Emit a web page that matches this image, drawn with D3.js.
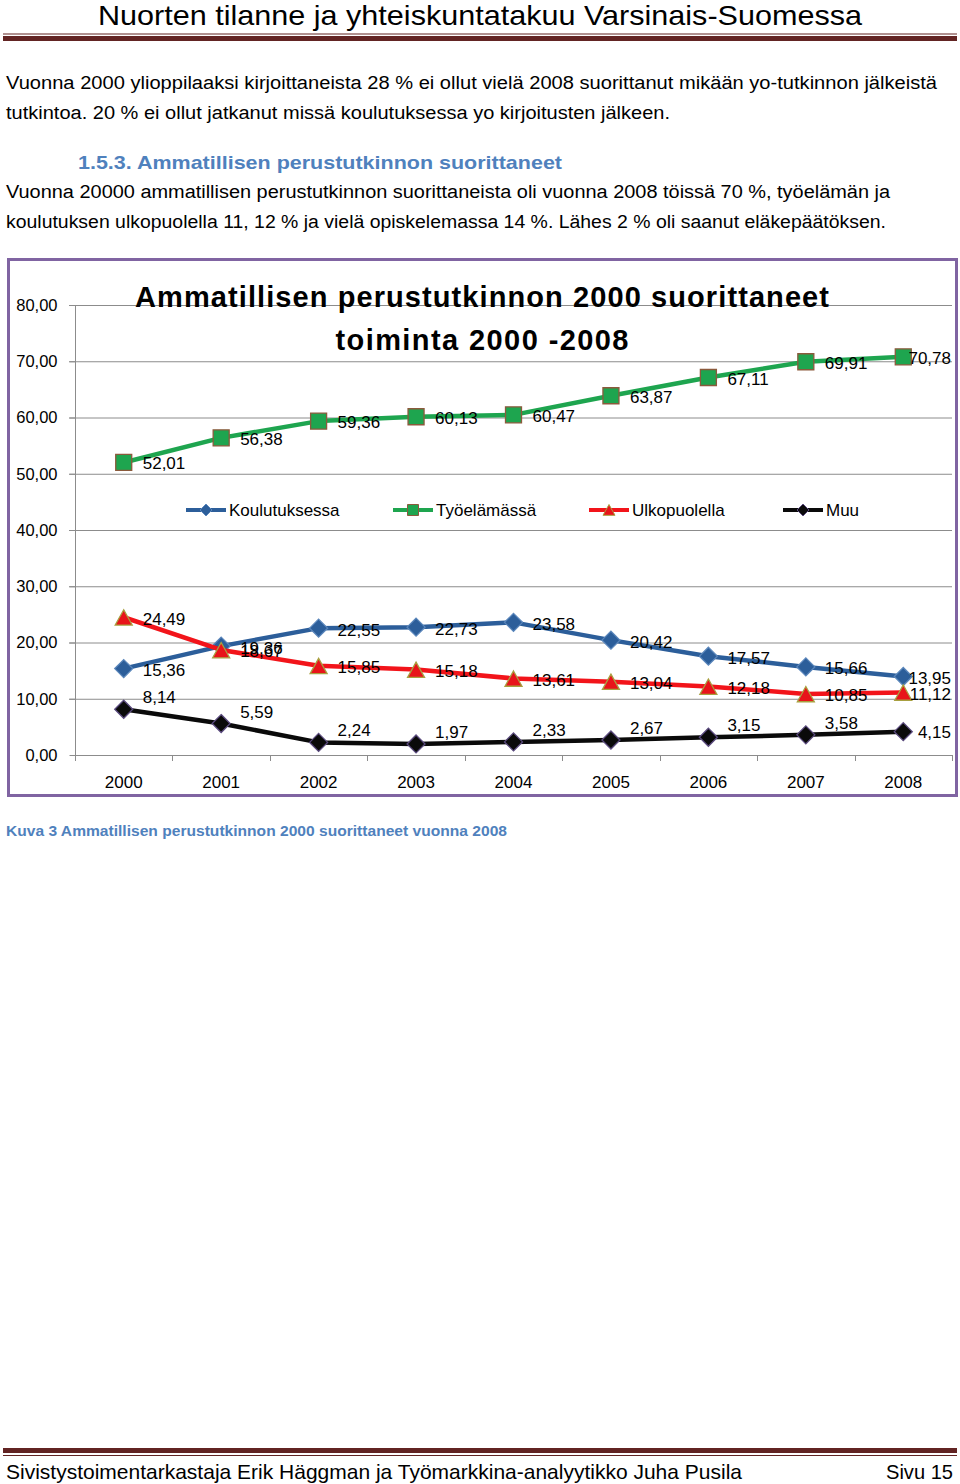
<!DOCTYPE html>
<html><head><meta charset="utf-8">
<script src="https://cdn.jsdelivr.net/npm/d3@7"></script>
<style>body{margin:0;background:#fff}svg{display:block}</style>
</head><body>
<svg id="page" width="960" height="1484"></svg>
<script>
const years = ["2000","2001","2002","2003","2004","2005","2006","2007","2008"];
const koulutuksessa = [15.36,19.36,22.55,22.73,23.58,20.42,17.57,15.66,13.95];
const tyoelamassa = [52.01,56.38,59.36,60.13,60.47,63.87,67.11,69.91,70.78];
const ulkopuolella = [24.49,18.67,15.85,15.18,13.61,13.04,12.18,10.85,11.12];
const muu = [8.14,5.59,2.24,1.97,2.33,2.67,3.15,3.58,4.15];
const seriesNames = ["Koulutuksessa","Työelämässä","Ulkopuolella","Muu"];
const yTicks = [0,10,20,30,40,50,60,70,80];

const svg = d3.select("#page");
const F = "'Liberation Sans', Arial, sans-serif";
const maroon = "#622423";

// Header
svg.append("text").attr("x",480).attr("y",25).attr("text-anchor","middle")
  .attr("font-family",F).attr("font-size",28).attr("fill","#000")
  .attr("textLength",764).attr("lengthAdjust","spacingAndGlyphs")
  .text("Nuorten tilanne ja yhteiskuntatakuu Varsinais-Suomessa");
svg.append("rect").attr("x",3).attr("y",33.5).attr("width",954).attr("height",1).attr("fill",maroon);
svg.append("rect").attr("x",3).attr("y",36).attr("width",954).attr("height",5).attr("fill",maroon);

// Paragraphs
function para(txt,x,y,w,opts={}){
  const t = svg.append("text").attr("x",x).attr("y",y).attr("font-family",F)
    .attr("font-size",opts.size||18).attr("fill",opts.fill||"#000")
    .attr("font-weight",opts.weight||"normal").text(txt);
  if(w) t.attr("textLength",w).attr("lengthAdjust","spacingAndGlyphs");
  return t;
}
para("Vuonna 2000 ylioppilaaksi kirjoittaneista 28 % ei ollut vielä 2008 suorittanut mikään yo-tutkinnon jälkeistä",6,89,931);
para("tutkintoa. 20 % ei ollut jatkanut missä koulutuksessa yo kirjoitusten jälkeen.",6,119,664);
para("1.5.3. Ammatillisen perustutkinnon suorittaneet",78,169,484,{weight:"bold",fill:"#4F81BD",size:19});
para("Vuonna 20000 ammatillisen perustutkinnon suorittaneista oli vuonna 2008 töissä 70 %, työelämän ja",6,198,884);
para("koulutuksen ulkopuolella 11, 12 % ja vielä opiskelemassa 14 %. Lähes 2 % oli saanut eläkepäätöksen.",6,228,880);

// Chart border
svg.append("rect").attr("x",8.5).attr("y",259.5).attr("width",948).attr("height",536)
  .attr("fill","#fff").attr("stroke","#8064A2").attr("stroke-width",3);

// Scales
const x = d3.scaleBand().domain(years).range([75,952]);
const y = d3.scaleLinear().domain([0,80]).range([755,305]);
const g = svg.append("g");

// gridlines
g.selectAll(".grid").data(yTicks.filter(d=>d>0)).join("line")
  .attr("x1",69).attr("x2",952).attr("y1",d=>y(d)+0.5).attr("y2",d=>y(d)+0.5)
  .attr("stroke","#8c8c8c").attr("stroke-width",1);

// axes
const yAxis = d3.axisLeft(y).tickValues(yTicks).tickSize(6).tickPadding(12)
  .tickFormat(d=>d3.format(".2f")(d).replace(".",","));
const ya = g.append("g").attr("transform","translate(75.5,0)").call(yAxis);
ya.select(".domain").attr("stroke","#8c8c8c");
ya.selectAll(".tick line").attr("stroke","#8c8c8c");
ya.selectAll("text").attr("font-family",F).attr("font-size",16.5).attr("fill","#000");
ya.select(".domain").attr("d","M0,755V305");

const xAxis = d3.axisBottom(x).tickSize(0).tickPadding(20);
const xa = g.append("g").attr("transform","translate(0,755.5)").call(xAxis);
xa.select(".domain").attr("stroke","#8c8c8c").attr("d","M75,0H952");
xa.selectAll("text").attr("font-family",F).attr("font-size",17).attr("fill","#000");
// band-edge ticks
const edges = years.map(d=>x(d)).concat([952]);
g.selectAll(".xt").data(edges).join("line")
  .attr("x1",d=>Math.round(d)+0.5).attr("x2",d=>Math.round(d)+0.5)
  .attr("y1",755).attr("y2",761).attr("stroke","#8c8c8c");

// Title
svg.append("text").attr("x",482).attr("y",307).attr("text-anchor","middle")
  .attr("font-family",F).attr("font-weight","bold").attr("font-size",29)
  .attr("textLength",694).attr("lengthAdjust","spacing")
  .text("Ammatillisen perustutkinnon 2000 suorittaneet");
svg.append("text").attr("x",482).attr("y",350).attr("text-anchor","middle")
  .attr("font-family",F).attr("font-weight","bold").attr("font-size",29)
  .attr("textLength",293).attr("lengthAdjust","spacing")
  .text("toiminta 2000 -2008");

// Series definitions
const cx = d => x(d) + x.bandwidth()/2;
const series = [
  {name:seriesNames[0], vals:koulutuksessa, color:"#2C5E9A", mfill:"#2C5E9A", mstroke:"#5a86bb", shape:"diamond", dy:1.5},
  {name:seriesNames[1], vals:tyoelamassa, color:"#1EA54F", mfill:"#1EA54F", mstroke:"#8b5a3c", shape:"square", dy:1},
  {name:seriesNames[2], vals:ulkopuolella, color:"#F2141A", mfill:"#E8141A", mstroke:"#a8a040", shape:"triangle", dy:1.5},
  {name:seriesNames[3], vals:muu, color:"#0a0a0a", mfill:"#0a0a0a", mstroke:"#5a4a7e", shape:"diamond", dy:-12}
];

function markerPath(shape,s){
  const h=s/2;
  if(shape==="diamond") return `M0,${-h}L${h},0L0,${h}L${-h},0Z`;
  if(shape==="square") return `M${-h},${-h}H${h}V${h}H${-h}Z`;
  return `M0,${-h}L${h},${h*0.8}L${-h},${h*0.8}Z`;
}

const line = d3.line().x(d=>cx(d.year)).y(d=>y(d.v));
series.forEach(s=>{
  const pts = years.map((yr,i)=>({year:yr,v:s.vals[i],i}));
  const sg = g.append("g");
  sg.append("path").datum(pts).attr("d",line).attr("fill","none")
    .attr("stroke",s.color).attr("stroke-width",4.5).attr("stroke-linejoin","round");
  sg.selectAll(".m").data(pts).join("path")
    .attr("transform",d=>`translate(${cx(d.year)},${y(d.v)+(s.shape==="triangle"?1:0)})`)
    .attr("d",markerPath(s.shape, s.shape==="triangle"?17:(s.shape==="square"?16:18)))
    .attr("fill",s.mfill).attr("stroke",s.mstroke).attr("stroke-width",1.3);
});

// Labels
series.forEach(s=>{
  years.forEach((yr,i)=>{
    const v=s.vals[i];
    const txt=d3.format(".2f")(v).replace(".",",");
    const last = i===years.length-1;
    const dy = (last && s.shape==="diamond" && s.name==="Muu") ? 0 : s.dy;
    const t = g.append("text").attr("font-family",F).attr("font-size",17).attr("fill","#000")
      .attr("y",y(v)+dy+6).text(txt);
    if(last){ t.attr("x",951).attr("text-anchor","end"); }
    else { t.attr("x",cx(yr)+19); }
  });
});

// Legend
const legX = [186,393,589,783];
series.forEach((s,i)=>{
  const lg = g.append("g").attr("transform",`translate(${legX[i]},510)`);
  lg.append("line").attr("x1",0).attr("x2",40).attr("stroke",s.color).attr("stroke-width",4);
  lg.append("path").attr("transform",`translate(20,${s.shape==="triangle"?0.5:0})`)
    .attr("d",markerPath(s.shape, s.shape==="square"?11:12))
    .attr("fill",s.mfill).attr("stroke",s.mstroke).attr("stroke-width",1);
  lg.append("text").attr("x",43).attr("y",6).attr("font-family",F).attr("font-size",17)
    .attr("fill","#000").text(s.name);
});

// Caption
para("Kuva 3 Ammatillisen perustutkinnon 2000 suorittaneet vuonna 2008",6,836,501,{weight:"bold",fill:"#4F81BD",size:15});

// Footer
svg.append("rect").attr("x",3).attr("y",1448).attr("width",954).attr("height",5).attr("fill",maroon);
svg.append("rect").attr("x",3).attr("y",1455).attr("width",954).attr("height",1).attr("fill",maroon);
para("Sivistystoimentarkastaja Erik Häggman ja Työmarkkina-analyytikko Juha Pusila",6,1479,736,{size:21});
para("Sivu 15",886,1479,67,{size:21});
</script>
</body></html>
